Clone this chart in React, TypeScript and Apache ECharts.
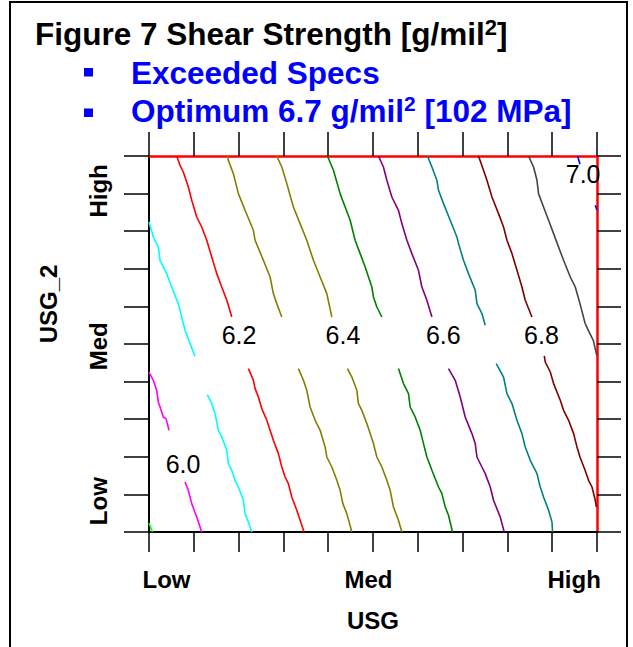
import React, { useEffect, useRef } from 'react';
import * as echarts from 'echarts';

// Axis ranges (coded factor space, 10 tick intervals each)
const axisMin = 0;
const axisMax = 10;
const axisInterval = 1;

// Category labels for the factor levels
const xLabelTexts = ['Low', 'Med', 'High'];
const xLabelValues = [0.39, 4.9, 9.49];
const yLabelTexts = ['Low', 'Med', 'High'];
const yLabelValues = [0.82, 4.94, 9.07];

// Contour levels and their colours
const contourLevels = [5.9, 6.0, 6.1, 6.2, 6.3, 6.4, 6.5, 6.6, 6.7, 6.8, 6.9, 7.0];
const contourColors = ['#00ff00', '#ff00ff', '#00ffff', '#ff0000', '#808000', '#808000', '#008000', '#800080', '#008080', '#800000', '#444444', '#0000ff'];

// Contour polylines (each level split into segments around the label band)
const c59 = [[[0, 0.24], [0.074, 0]]];
const c60 = [
  [[0, 4.255], [0.096, 4.035], [0.172, 3.769], [0.208, 3.457], [0.246, 3.324], [0.319, 3.059], [0.38, 3.016], [0.447, 2.705]],
  [[0.804, 1.33], [0.878, 1.109], [0.954, 0.755], [1.065, 0.399], [1.177, 0]],
];
const c61 = [
  [[0, 8.245], [0.096, 7.846], [0.208, 7.58], [0.246, 7.226], [0.395, 6.872], [0.507, 6.516], [0.654, 6.074], [0.73, 5.718], [0.804, 5.364], [0.916, 5.011], [1.027, 4.673]],
  [[1.302, 3.654], [1.4, 3.415], [1.474, 3.149], [1.548, 2.705], [1.624, 2.527], [1.736, 2.173], [1.771, 1.819], [1.847, 1.641], [1.921, 1.375], [1.995, 1.197], [2.106, 0.843], [2.144, 0.489], [2.218, 0.266], [2.294, 0]],
];
const c62 = [
  [[0.619, 10], [0.692, 9.753], [0.766, 9.574], [0.878, 9.176], [0.954, 8.822], [1.065, 8.378], [1.177, 8.112], [1.289, 7.758], [1.4, 7.314], [1.512, 6.872], [1.624, 6.516], [1.736, 6.162], [1.771, 6.029], [1.847, 5.718]],
  [[2.218, 4.346], [2.33, 4.035], [2.368, 3.814], [2.441, 3.59], [2.517, 3.282], [2.629, 2.971], [2.703, 2.705], [2.776, 2.439], [2.888, 2.085], [2.964, 1.729], [3.038, 1.463], [3.111, 1.287], [3.187, 0.931], [3.299, 0.577], [3.373, 0.311], [3.462, 0]],
];
const c63 = [
  [[1.758, 10], [1.771, 9.886], [1.883, 9.532], [1.995, 9.0], [2.144, 8.556], [2.33, 8.024], [2.368, 7.758], [2.553, 7.226], [2.703, 6.782], [2.776, 6.34], [2.852, 6.074], [2.964, 5.718]],
  [[3.335, 4.346], [3.447, 4.035], [3.522, 3.769], [3.596, 3.324], [3.708, 2.971], [3.82, 2.705], [3.931, 2.261], [3.969, 1.995], [4.081, 1.729], [4.193, 1.375], [4.266, 1.109], [4.327, 0.755], [4.416, 0.489], [4.528, 0]],
];
const c64 = [
  [[2.852, 10], [2.964, 9.707], [3.076, 9.266], [3.223, 8.644], [3.373, 8.202], [3.522, 7.758], [3.67, 7.226], [3.82, 6.782], [3.969, 6.34], [4.081, 5.718]],
  [[4.429, 4.346], [4.528, 4.122], [4.639, 3.769], [4.675, 3.415], [4.751, 3.237], [4.863, 2.883], [5.01, 2.351], [5.086, 1.995], [5.198, 1.729], [5.309, 1.375], [5.383, 1.109], [5.457, 0.665], [5.568, 0.311], [5.644, 0]],
];
const c65 = [
  [[3.983, 10], [4.117, 9.62], [4.266, 9.0], [4.378, 8.644], [4.49, 8.29], [4.601, 7.758], [4.713, 7.404], [4.825, 7.048], [4.974, 6.516], [5.01, 6.25], [5.086, 5.984], [5.198, 5.718]],
  [[5.568, 4.346], [5.68, 3.947], [5.792, 3.681], [5.83, 3.324], [5.941, 3.059], [6.053, 2.705], [6.127, 2.351], [6.203, 1.995], [6.315, 1.641], [6.462, 1.197], [6.538, 1.021], [6.612, 0.665], [6.685, 0.444], [6.775, 0]],
];
const c66 = [
  [[5.122, 10], [5.233, 9.707], [5.309, 9.354], [5.421, 8.91], [5.568, 8.556], [5.644, 8.202], [5.756, 7.758], [5.868, 7.404], [6.015, 6.96], [6.091, 6.516], [6.203, 6.162], [6.315, 5.718]],
  [[6.685, 4.346], [6.835, 4.035], [6.947, 3.59], [7.058, 3.059], [7.208, 2.617], [7.282, 2.351], [7.32, 1.995], [7.431, 1.729], [7.505, 1.553], [7.617, 1.197], [7.69, 0.843], [7.84, 0.399], [7.929, 0]],
];
const c67 = [
  [[6.216, 10], [6.315, 9.707], [6.426, 9.354], [6.462, 9.088], [6.574, 8.734], [6.723, 8.29], [6.873, 7.846], [6.909, 7.67], [7.02, 7.226], [7.132, 6.872], [7.282, 6.428], [7.32, 6.074], [7.431, 5.809], [7.505, 5.497]],
  [[7.751, 4.479], [7.914, 4.122], [7.99, 3.681], [8.102, 3.415], [8.213, 2.971], [8.325, 2.617], [8.398, 2.261], [8.51, 1.907], [8.66, 1.553], [8.733, 1.197], [8.807, 0.931], [8.919, 0.577], [8.995, 0.266], [9.008, 0]],
];
const c68 = [
  [[7.355, 10], [7.467, 9.62], [7.543, 9.354], [7.655, 8.91], [7.802, 8.468], [7.914, 8.112], [7.99, 7.758], [8.102, 7.404], [8.213, 6.96], [8.325, 6.516], [8.398, 6.162], [8.548, 5.718]],
  [[8.823, 4.681], [8.845, 4.521], [8.957, 4.255], [9.031, 3.947], [9.18, 3.503], [9.254, 3.237], [9.366, 2.971], [9.478, 2.617], [9.553, 2.261], [9.62, 1.995], [9.734, 1.641], [9.812, 1.375], [9.888, 1.197], [9.962, 0.843], [9.984, 0.665]],
];
const c69 = [
  [[8.472, 10], [8.584, 9.707], [8.66, 9.354], [8.695, 9.0], [8.807, 8.644], [8.919, 8.29], [9.031, 7.936], [9.142, 7.58], [9.254, 7.226], [9.404, 6.782], [9.515, 6.516], [9.62, 6.074], [9.734, 5.551], [9.806, 5.364], [9.917, 5.098], [9.995, 4.699]],
];
const c70 = [
  [[9.567, 10], [9.62, 9.779]],
  [[9.962, 8.689], [10, 8.556]],
];
const contourSegments = [c59, c60, c61, c62, c63, c64, c65, c66, c67, c68, c69, c70];

// Contour labels
const contourLabelTexts = ['6.0', '6.2', '6.4', '6.6', '6.8', '7.0'];
const contourLabelPoints = [[0.76, 1.8], [2.01, 5.23], [4.33, 5.23], [6.57, 5.23], [8.76, 5.23], [9.69, 9.51]];

const FONT = "'Liberation Sans', Arial, Helvetica, sans-serif";

function pickLabel(values: number[], texts: string[], v: number) {
  let best = 0;
  for (let i = 1; i < values.length; i++) {
    if (Math.abs(values[i] - v) < Math.abs(values[best] - v)) best = i;
  }
  return texts[best];
}

export default function App() {
  const ref = useRef<HTMLDivElement>(null);

  useEffect(() => {
    const chart = echarts.init(ref.current!, null, { renderer: 'svg' });

    const lineSeries: any[] = [];
    contourSegments.forEach((segs, li) => {
      segs.forEach((seg, si) => {
        lineSeries.push({
          type: 'line',
          name: `${contourLevels[li].toFixed(1)}-${si}`,
          data: seg,
          showSymbol: false,
          symbol: 'none',
          silent: true,
          lineStyle: { color: contourColors[li], width: 1.6 },
          z: 3,
        });
      });
    });

    const labelSeries = {
      type: 'scatter',
      symbolSize: 0,
      silent: true,
      z: 4,
      itemStyle: { opacity: 1 },
      data: contourLabelPoints.map((p, i) => ({ value: p, name: contourLabelTexts[i] })),
      label: {
        show: true,
        position: 'inside',
        formatter: '{b}',
        color: '#000',
        opacity: 1,
        fontSize: 25,
        fontFamily: FONT,
        align: 'center',
        verticalAlign: 'middle',
      },
    };

    const tickStyle = { color: '#000', width: 1.5 };

    const option: any = {
      animation: false,
      backgroundColor: '#ffffff',
      grid: { left: 149, right: 36, top: 156, bottom: 115, containLabel: false },
      xAxis: [
        {
          type: 'value',
          position: 'bottom',
          min: axisMin,
          max: axisMax,
          interval: axisInterval,
          splitLine: { show: false },
          axisLine: { show: true, onZero: false, lineStyle: { color: '#000', width: 2 } },
          axisTick: { show: true, inside: false, length: 20, lineStyle: tickStyle },
          axisLabel: {
            show: true,
            customValues: xLabelValues,
            formatter: (v: number) => pickLabel(xLabelValues, xLabelTexts, v),
            margin: 35,
            color: '#000',
            fontSize: 24,
            fontWeight: 'bold',
            fontFamily: FONT,
          },
          name: 'USG',
          nameLocation: 'middle',
          nameGap: 76,
          nameTextStyle: { color: '#000', fontSize: 24, fontWeight: 'bold', fontFamily: FONT },
        },
        {
          type: 'value',
          position: 'top',
          min: axisMin,
          max: axisMax,
          interval: axisInterval,
          splitLine: { show: false },
          axisLine: { show: true, onZero: false, lineStyle: { color: '#ff0000', width: 2.5 } },
          axisTick: { show: true, inside: false, length: 24, lineStyle: tickStyle },
          axisLabel: { show: false },
        },
      ],
      yAxis: [
        {
          type: 'value',
          position: 'left',
          min: axisMin,
          max: axisMax,
          interval: axisInterval,
          splitLine: { show: false },
          axisLine: { show: true, onZero: false, lineStyle: { color: '#000', width: 2 } },
          axisTick: { show: true, inside: false, length: 25, lineStyle: tickStyle },
          axisLabel: {
            show: true,
            customValues: yLabelValues,
            formatter: (v: number) => pickLabel(yLabelValues, yLabelTexts, v),
            rotate: 90,
            align: 'center',
            verticalAlign: 'bottom',
            margin: 39,
            color: '#000',
            fontSize: 24,
            fontWeight: 'bold',
            fontFamily: FONT,
          },
          name: 'USG_2',
          nameLocation: 'middle',
          nameGap: 89,
          nameTextStyle: { color: '#000', fontSize: 24, fontWeight: 'bold', fontFamily: FONT, padding: [0, 0, 0, 80] },
        },
        {
          type: 'value',
          position: 'right',
          min: axisMin,
          max: axisMax,
          interval: axisInterval,
          splitLine: { show: false },
          axisLine: { show: true, onZero: false, lineStyle: { color: '#ff0000', width: 2.5 } },
          axisTick: { show: true, inside: false, length: 24, lineStyle: tickStyle },
          axisLabel: { show: false },
        },
      ],
      graphic: [
        {
          type: 'rect',
          shape: { x: 10, y: 2, width: 617, height: 700 },
          style: { fill: 'none', stroke: '#000', lineWidth: 2 },
          silent: true,
          z: 0,
        },
        {
          type: 'text',
          x: 35,
          y: 16.4,
          silent: true,
          style: {
            text: '{b|Figure 7 Shear Strength [g/mil}{s|2}{b|]}',
            verticalAlign: 'top',
            align: 'left',
            fill: '#000',
            rich: {
              b: { fontSize: 31.5, fontWeight: 'bold', fontFamily: FONT, lineHeight: 36, fill: '#000', color: '#000' },
              s: { fontSize: 22, fontWeight: 'bold', fontFamily: FONT, lineHeight: 33.4, verticalAlign: 'top', fill: '#000', color: '#000' },
            },
          },
        },
        {
          type: 'rect',
          shape: { x: 84, y: 68, width: 9, height: 8.5 },
          style: { fill: '#0000ff' },
          silent: true,
        },
        {
          type: 'text',
          x: 131,
          y: 72.6,
          silent: true,
          style: {
            text: 'Exceeded Specs',
            fontSize: 31.5,
            fontWeight: 'bold',
            fontFamily: FONT,
            fill: '#0000ff',
            align: 'left',
            verticalAlign: 'middle',
          },
        },
        {
          type: 'rect',
          shape: { x: 84, y: 108.5, width: 9, height: 8.5 },
          style: { fill: '#0000ff' },
          silent: true,
        },
        {
          type: 'text',
          x: 131,
          y: 93,
          silent: true,
          style: {
            text: '{b|Optimum 6.7 g/mil}{s|2}{b| [102 MPa]}',
            verticalAlign: 'top',
            align: 'left',
            fill: '#0000ff',
            rich: {
              b: { fontSize: 31.5, fontWeight: 'bold', fontFamily: FONT, lineHeight: 36, fill: '#0000ff', color: '#0000ff' },
              s: { fontSize: 21, fontWeight: 'bold', fontFamily: FONT, lineHeight: 24.2, verticalAlign: 'top', fill: '#0000ff', color: '#0000ff' },
            },
          },
        },
      ],
      series: [...lineSeries, labelSeries],
    };

    chart.setOption(option);
    return () => chart.dispose();
  }, []);

  return (
    <div
      ref={ref}
      style={{ position: 'absolute', left: 0, top: 0, width: 633, height: 647, background: '#fff' }}
    />
  );
}
